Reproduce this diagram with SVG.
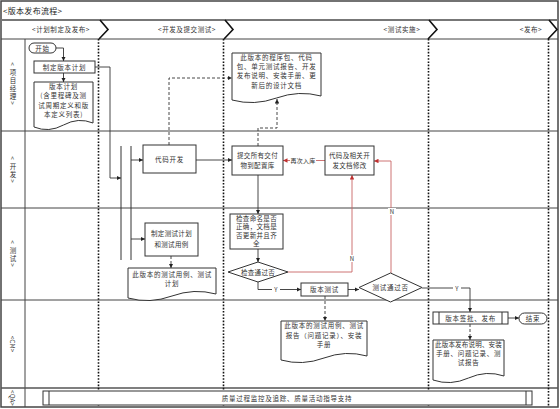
<svg xmlns="http://www.w3.org/2000/svg" width="560" height="409" viewBox="0 0 560 409">
<defs>
<style>
text{font-family:"Noto Sans CJK SC","Noto Sans",sans-serif;fill:#333;font-size:6.5px;letter-spacing:0.75px;text-anchor:middle}
.t{font-size:8px;letter-spacing:0.3px;text-anchor:start;fill:#222}
.ph{font-size:6.5px;letter-spacing:0.6px}
.n{letter-spacing:0.35px}
.v{font-size:6.5px;letter-spacing:0;dominant-baseline:central}
.box{fill:#fff;stroke:#333;stroke-width:1}
.frame{fill:none;stroke:#444}
.dot{stroke:#111;stroke-width:1.6;stroke-dasharray:1.6 1.6;fill:none}
.chev{fill:none;stroke:#111;stroke-width:1.6}
.c{fill:none;stroke:#333;stroke-width:0.9;marker-end:url(#ah)}
.d{fill:none;stroke:#333;stroke-width:0.9;stroke-dasharray:3 2;marker-end:url(#ah)}
.r{fill:none;stroke:#c86464;stroke-width:0.9;marker-end:url(#ahr)}
.lbl{font-size:6px;letter-spacing:0.3px}
</style>
<marker id="ah" viewBox="0 0 10 10" refX="10" refY="5" markerWidth="4.5" markerHeight="4.5" markerUnits="userSpaceOnUse" orient="auto"><path d="M0,0 L10,5 L0,10 z" fill="#222"/></marker>
<marker id="ahr" viewBox="0 0 10 10" refX="10" refY="5" markerWidth="4.5" markerHeight="4.5" markerUnits="userSpaceOnUse" orient="auto"><path d="M0,0 L10,5 L0,10 z" fill="#c03030"/></marker>
</defs>
<rect width="560" height="409" fill="#fff"/>
<g id="frame">
<rect x="1" y="1" width="557" height="406" fill="none" stroke="#444" stroke-width="1.5"/>
<line x1="1" y1="20" x2="558" y2="20" stroke="#777" stroke-width="2"/>
<line x1="1" y1="39" x2="558" y2="39" class="frame"/>
<line x1="25" y1="39" x2="25" y2="407" class="frame"/>
<line x1="1" y1="131" x2="558" y2="131" class="frame"/>
<line x1="1" y1="208" x2="558" y2="208" class="frame"/>
<line x1="1" y1="300" x2="558" y2="300" class="frame"/>
<line x1="1" y1="388" x2="558" y2="388" stroke="#555" stroke-width="1.6"/>
<text x="3" y="14" class="t">&lt;版本发布流程&gt;</text>
<polyline points="100,20 108,29.5 99,39" class="chev"/>
<polyline points="225,20 233,29.5 224,39" class="chev"/>
<polyline points="429,20 437,29.5 428,39" class="chev"/>
<polyline points="549,20 557,29.5 548,39" class="chev"/>
<line x1="98.5" y1="39" x2="98.5" y2="407" class="dot"/>
<line x1="223.5" y1="39" x2="223.5" y2="407" class="dot"/>
<line x1="428.5" y1="39" x2="428.5" y2="407" class="dot"/>
<line x1="548.5" y1="39" x2="548.5" y2="407" class="dot"/>
<text x="61" y="32" class="ph">&lt;计划制定及发布&gt;</text>
<text x="187" y="32" class="ph">&lt;开发及提交测试&gt;</text>
<text x="402" y="32" class="ph">&lt;测试实施&gt;</text>
<text x="531" y="32" class="ph">&lt;发布&gt;</text>
</g>
<g id="lane-labels">
<text x="13" y="64" class="v" transform="rotate(90 13 64)">&lt;</text>
<text x="13 13 13 13" y="71.5 79.5 87.5 95.5" class="v">项目经理</text>
<text x="13" y="103" class="v" transform="rotate(90 13 103)">&gt;</text>
<text x="13" y="158" class="v" transform="rotate(90 13 158)">&lt;</text>
<text x="13 13" y="165.5 173.5" class="v">开发</text>
<text x="13" y="181" class="v" transform="rotate(90 13 181)">&gt;</text>
<text x="13" y="242" class="v" transform="rotate(90 13 242)">&lt;</text>
<text x="13 13" y="249.5 257.5" class="v">测试</text>
<text x="13" y="265" class="v" transform="rotate(90 13 265)">&gt;</text>
<text x="13" y="344" class="v" transform="rotate(90 13 344)">&lt;CM&gt;</text>
<text x="13" y="398" class="v" transform="rotate(90 13 398)">&lt;QA&gt;</text>
</g>
<g id="connectors">
<path d="M56,48 H63.5 V61" class="c"/>
<path d="M63.5,73 V82" class="c"/>
<path d="M95,67 H110 V178 H121" class="c"/>
<path d="M131,160 H143" class="c"/>
<path d="M131,239 H145" class="c"/>
<path d="M196,160 H232" class="c"/>
<path d="M169,145 V78 H232" class="d"/>
<path d="M258,146 V128 H277 V99" class="d"/>
<path d="M258,175 V214" class="c"/>
<path d="M258,249 V262" class="c"/>
<path d="M258,282 V289.5 H301" class="c"/>
<path d="M288,272 H352 V175" class="r"/>
<path d="M391,273 V161 H374" class="r"/>
<path d="M325,160.5 H283" class="r"/>
<path d="M348,289.5 H359" class="c"/>
<path d="M422,288 H470 V312" class="c"/>
<path d="M325,296 V321" class="d"/>
<path d="M508,318 H519" class="c"/>
<path d="M470,324 V340" class="d"/>
<path d="M171,256 V268" class="d"/>
<rect x="290" y="156" width="26" height="9" fill="#fff"/>
<text x="303" y="163" class="lbl">再次入库</text>
<rect x="272" y="286" width="8" height="7" fill="#fff"/>
<text x="276" y="292" class="lbl">Y</text>
<rect x="453" y="285" width="8" height="7" fill="#fff"/>
<text x="457" y="291" class="lbl">Y</text>
<rect x="348" y="255" width="8" height="7" fill="#fff"/>
<text x="352" y="261" class="lbl">N</text>
<rect x="388" y="208" width="8" height="7" fill="#fff"/>
<text x="392" y="214" class="lbl">N</text>
</g>
<g id="start">
<rect x="29" y="43" width="27" height="10" rx="5" class="box"/>
<text x="42.5" y="50.5">开始</text>
</g>
<g id="plan">
<rect x="34" y="61" width="61" height="12" class="box"/>
<text x="64.5" y="69.5">制定版本计划</text>
</g>
<g id="doc-plan">
<path d="M34,82 H93 V123 Q78.25,117 63.5,125 T34,127 Z" class="box"/>
<text x="63.5" y="88.5">版本计划</text>
<text x="63.5" y="98">(含里程碑及测</text>
<text x="63.5" y="107.5">试周期定义和版</text>
<text x="63.5" y="117">本定义列表)</text>
</g>
<g id="doc-dev">
<path d="M232,53 H321 V96 Q298.75,90 276.5,98 T232,100 Z" class="box"/>
<text x="276.5" y="59.5">此版本的程序包、代码</text>
<text x="276.5" y="69">包、单元测试报告、开发</text>
<text x="276.5" y="78">发布说明、安装手册、更</text>
<text x="276.5" y="87.5">新后的设计文档</text>
</g>
<g id="fork">
<line x1="121" y1="146" x2="121" y2="260" stroke="#333"/>
<line x1="131" y1="146" x2="131" y2="260" stroke="#333"/>
</g>
<g id="coding">
<rect x="143" y="145" width="53" height="28" class="box"/>
<text x="169.5" y="161.5">代码开发</text>
</g>
<g id="submit">
<rect x="232" y="146" width="51" height="29" class="box"/>
<text x="257.5" y="158" class="n">提交所有交付</text>
<text x="257.5" y="168" class="n">物到配置库</text>
</g>
<g id="fix">
<rect x="325" y="146" width="49" height="29" class="box"/>
<text x="349.5" y="158" class="n">代码及相关开</text>
<text x="349.5" y="168" class="n">发文档修改</text>
</g>
<g id="testplan">
<rect x="145" y="223" width="53" height="33" class="box"/>
<text x="171.5" y="236" class="n">制定测试计划</text>
<text x="171.5" y="246.5" class="n">和测试用例</text>
</g>
<g id="doc-testplan">
<path d="M128,268 H216 V294 Q194,288 172,296 T128,298 Z" class="box"/>
<text x="172" y="277">此版本的测试用例、测试</text>
<text x="172" y="286">计划</text>
</g>
<g id="check">
<rect x="230" y="214" width="53" height="35" class="box"/>
<text x="256.5" y="220.5" class="n">检查命名是否</text>
<text x="256.5" y="229" class="n">正确，文档是</text>
<text x="256.5" y="237.5" class="n">否更新并且齐</text>
<text x="256.5" y="246" class="n">全</text>
</g>
<g id="check-pass">
<polygon points="228,272 258,262 288,272 258,282" class="box"/>
<text x="258" y="274.5" class="n">检查通过否</text>
</g>
<g id="vtest">
<rect x="301" y="283" width="47" height="13" class="box"/>
<text x="324.5" y="292">版本测试</text>
</g>
<g id="test-pass">
<polygon points="359,287.5 390.5,273 422,287.5 390.5,302" class="box"/>
<text x="390.5" y="290">测试通过否</text>
</g>
<g id="doc-testreport">
<path d="M281,321 H367 V356 Q345.5,350 324,358 T281,360 Z" class="box"/>
<text x="324" y="328">此版本的测试用例、测试</text>
<text x="324" y="337.5">报告（问题记录）、安装</text>
<text x="324" y="347">手册</text>
</g>
<g id="release">
<rect x="433" y="312" width="75" height="12" class="box"/>
<line x1="439" y1="312" x2="439" y2="324" stroke="#333"/>
<line x1="502" y1="312" x2="502" y2="324" stroke="#333"/>
<text x="470.5" y="320.5">版本签批、发布</text>
</g>
<g id="end">
<rect x="519" y="313" width="28" height="11" rx="5.5" class="box"/>
<text x="533" y="321">结束</text>
</g>
<g id="doc-release">
<path d="M433,340 H504 V376 Q486.25,370 468.5,378 T433,380 Z" class="box"/>
<text x="468.5" y="347" style="letter-spacing:0.2px">此版本发布说明、安装</text>
<text x="468.5" y="356">手册、问题记录、测</text>
<text x="468.5" y="365">试报告</text>
</g>
<g id="qa">
<rect x="43" y="391" width="489" height="14" class="box"/>
<line x1="49" y1="391" x2="49" y2="405" stroke="#333"/>
<line x1="526" y1="391" x2="526" y2="405" stroke="#333"/>
<text x="287" y="400.5">质量过程监控及追踪、质量活动指导支持</text>
</g>
</svg>
